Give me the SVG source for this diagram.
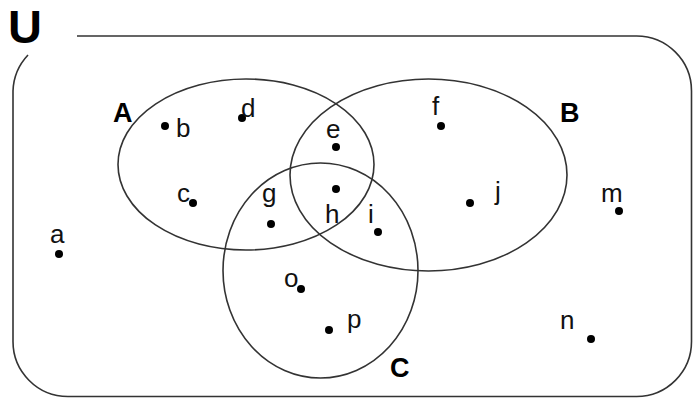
<svg xmlns="http://www.w3.org/2000/svg" width="693" height="398" viewBox="0 0 693 398">
<style>
.set{fill:none;stroke:#333;stroke-width:1.6}
.lbl{font-family:"Liberation Sans",Arial,sans-serif;font-size:26px;fill:#111}
.big{font-family:"Liberation Sans",Arial,sans-serif;font-weight:bold;font-size:27px;fill:#000}
.dot{fill:#000}
</style>
<rect width="693" height="398" fill="#fff"/>
<g id="universe">
<path class="set" d="M77,36 H636 A55,55 0 0 1 691.5,91 V341 A55,55 0 0 1 636,396.5 H68 A55,55 0 0 1 13,341 V91 A55,55 0 0 1 28,55"/>
<text class="big" x="8" y="43" style="font-size:47px">U</text>
</g>
<g id="setA">
<ellipse class="set" cx="246" cy="164.5" rx="128" ry="85.5"/>
<text class="big" x="113" y="122">A</text>
</g>
<g id="setB">
<ellipse class="set" cx="428.5" cy="175" rx="138.5" ry="96"/>
<text class="big" x="560" y="122">B</text>
</g>
<g id="setC">
<ellipse class="set" cx="320.5" cy="270.5" rx="97.5" ry="107.5"/>
<text class="big" x="390" y="377">C</text>
</g>
<g id="elements">
<g id="el-a"><circle class="dot" cx="59" cy="254" r="4"/><text class="lbl" x="50" y="243">a</text></g>
<g id="el-b"><circle class="dot" cx="165" cy="126" r="4"/><text class="lbl" x="176" y="137">b</text></g>
<g id="el-c"><circle class="dot" cx="193" cy="203" r="4"/><text class="lbl" x="177" y="202">c</text></g>
<g id="el-d"><circle class="dot" cx="242" cy="118" r="4"/><text class="lbl" x="241" y="117">d</text></g>
<g id="el-e"><circle class="dot" cx="336" cy="147" r="4"/><text class="lbl" x="326" y="138">e</text></g>
<g id="el-f"><circle class="dot" cx="441" cy="126" r="4"/><text class="lbl" x="432" y="115">f</text></g>
<g id="el-g"><circle class="dot" cx="271" cy="224" r="4"/><text class="lbl" x="262" y="202">g</text></g>
<g id="el-h"><circle class="dot" cx="336" cy="189" r="4"/><text class="lbl" x="325" y="223">h</text></g>
<g id="el-i"><circle class="dot" cx="378" cy="232" r="4"/><text class="lbl" x="368" y="223">i</text></g>
<g id="el-j"><circle class="dot" cx="470" cy="203" r="4"/><text class="lbl" x="495" y="200">j</text></g>
<g id="el-m"><circle class="dot" cx="619" cy="211" r="4"/><text class="lbl" x="601" y="202">m</text></g>
<g id="el-n"><circle class="dot" cx="591" cy="339" r="4"/><text class="lbl" x="560" y="329">n</text></g>
<g id="el-o"><circle class="dot" cx="301" cy="289" r="4"/><text class="lbl" x="284" y="287">o</text></g>
<g id="el-p"><circle class="dot" cx="329" cy="330" r="4"/><text class="lbl" x="347" y="328">p</text></g>
</g>
</svg>
